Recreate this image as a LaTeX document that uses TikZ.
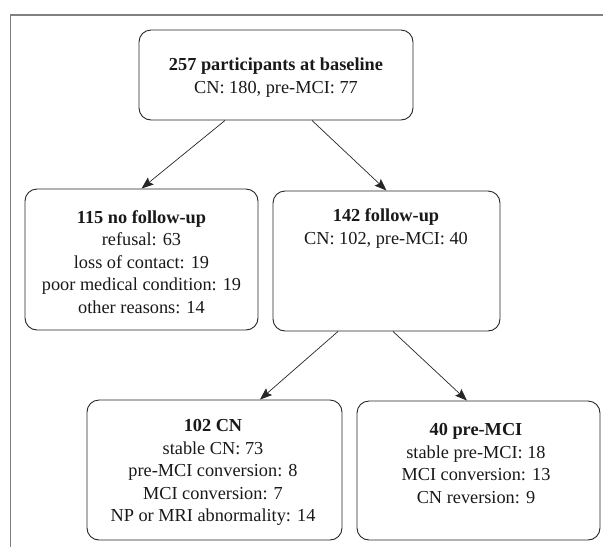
\documentclass[tikz,border=0pt]{standalone}
\usepackage{fontspec}
\setmainfont{Liberation Serif}
\usetikzlibrary{arrows.meta,calc}
\begin{document}
\begin{tikzpicture}[x=1pt,y=-1pt,
  box/.style={draw=black!85, line width=0.9pt, rounded corners=12pt, fill=white, inner sep=0pt},
  txt/.style={align=center, inner sep=0pt, font=\fontsize{18.3}{22.5}\selectfont, text=black!90},
  arr/.style={draw=black!85, line width=0.7pt, -{Stealth[length=12pt,width=9pt,inset=2pt]}},
  frameline/.style={draw=black!50, line width=1.5pt}]
\useasboundingbox (0,0) rectangle (603,547);
% frame
\coordinate (fTL) at (10.5,15);
\coordinate (fTR) at (603,15);
\coordinate (fBL) at (10.5,547);
\draw[frameline] (fTR) -- (fTL) -- (fBL);
% boxes
\node[box, minimum width=274pt, minimum height=90pt] (top) at (276,75) {};
\node[box, minimum width=233pt, minimum height=141pt] (left) at (141.5,259.5) {};
\node[box, minimum width=227pt, minimum height=140pt] (right) at (386.5,261) {};
\node[box, minimum width=255pt, minimum height=140pt] (bl) at (214.5,470) {};
\node[box, minimum width=243pt, minimum height=139pt] (br) at (478.5,470.5) {};
% texts
\node[txt] (ttop) at (276,77.5) {\textbf{257 participants at baseline}\\CN: 180, pre-MCI: 77};
\node[txt] (tleft) at (141.5,262) {\textbf{115 no follow-up}\\refusal: 63\\loss of contact: 19\\poor medical condition: 19\\other reasons: 14};
\node[txt] (tright) at (386,228.5) {\textbf{142 follow-up}\\CN: 102, pre-MCI: 40};
\node[txt] (tbl) at (213,472.5) {\textbf{102 CN}\\stable CN: 73\\pre-MCI conversion: 8\\MCI conversion: 7\\NP or MRI abnormality: 14};
\node[txt] (tbr) at (476,463.5) {\textbf{40 pre-MCI}\\stable pre-MCI: 18\\MCI conversion: 13\\CN reversion: 9};
% arrows
\draw[arr] ([xshift=-51pt]top.south) -- (left.north);
\draw[arr] ([xshift=36pt]top.south) -- (right.north);
\draw[arr] ([xshift=-48.5pt]right.south) -- ([xshift=45.5pt]bl.north);
\draw[arr] ([xshift=6.5pt]right.south) -- ([xshift=-11.5pt]br.north);
\end{tikzpicture}
\end{document}
